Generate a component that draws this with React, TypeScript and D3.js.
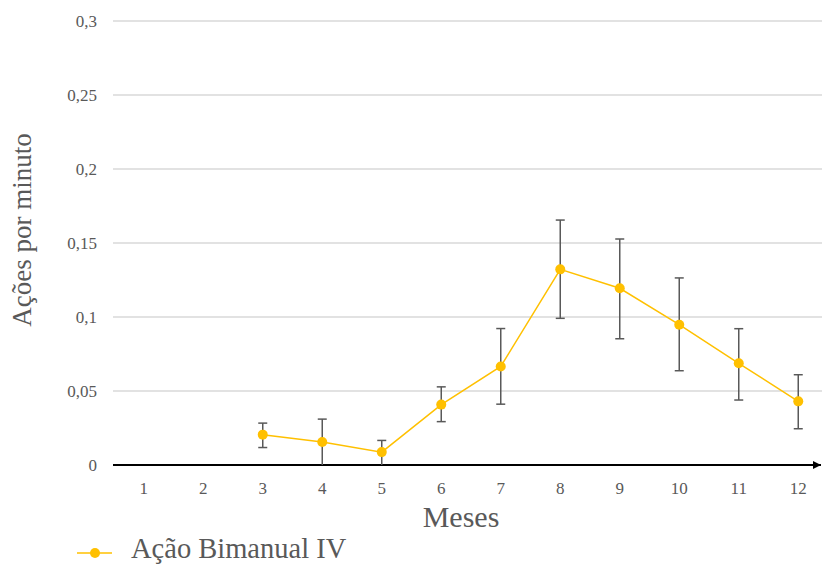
import React from "react";
import * as d3 from "d3";

// monthly values
const months = ["1", "2", "3", "4", "5", "6", "7", "8", "9", "10", "11", "12"];
const meanValues = [null, null, 0.0205, 0.0155, 0.0087, 0.0408, 0.0666, 0.1322, 0.1194, 0.0948, 0.0687, 0.043];
const upperValues = [null, null, 0.0283, 0.031, 0.0166, 0.0528, 0.0922, 0.1655, 0.1527, 0.1264, 0.0921, 0.061];
const lowerValues = [null, null, 0.0118, 0, 0, 0.0293, 0.0411, 0.0991, 0.0853, 0.0637, 0.0439, 0.0245];
const yTicks = [0, 0.05, 0.1, 0.15, 0.2, 0.25, 0.3];
const yTickLabels = ["0", "0,05", "0,1", "0,15", "0,2", "0,25", "0,3"];
const seriesName = "Ação Bimanual IV";
const xTitle = "Meses";
const yTitle = "Ações por minuto";

const W = 822;
const H = 564;
const left = 113;
const right = 822;
const top = 21;
const bottom = 465;
const serif = "Liberation Serif, Times New Roman, serif";
const gold = "#FFC000";
const grey = "#595959";

export default function App() {
  const x = d3.scaleBand<string>().domain(months).range([114, 828]);
  const y = d3.scaleLinear().domain([0, 0.3]).range([bottom, top]);

  const pts = months
    .map((m, i) => ({ m, v: meanValues[i], hi: upperValues[i], lo: lowerValues[i] }))
    .filter((d) => d.v !== null) as { m: string; v: number; hi: number; lo: number }[];

  const cx = (m: string) => (x(m) as number) + x.bandwidth() / 2;

  const line = d3
    .line<{ m: string; v: number }>()
    .x((d) => cx(d.m))
    .y((d) => y(d.v));

  return (
    <svg
      width={W}
      height={H}
      style={{ position: "fixed", top: 0, left: 0, background: "#fff", fontFamily: serif }}
    >
      <defs>
        <marker id="arrow" viewBox="0 0 10 10" refX="10" refY="5" markerWidth="4" markerHeight="4" orient="auto">
          <path d="M0,0 L10,5 L0,10 z" fill="#000" />
        </marker>
      </defs>

      {/* gridlines + y labels */}
      {yTicks.map((t, i) => (
        <g key={t}>
          {t > 0 && <line x1={left} x2={right} y1={y(t)} y2={y(t)} stroke="#d9d9d9" strokeWidth={1.3} />}
          <text x={97} y={y(t) + 6} textAnchor="end" fontSize={17} fill={grey} style={{ fontFamily: serif }}>
            {yTickLabels[i]}
          </text>
        </g>
      ))}

      {/* x axis */}
      <line x1={left} x2={821} y1={bottom} y2={bottom} stroke="#000" strokeWidth={2} markerEnd="url(#arrow)" />
      {months.map((m) => (
        <text key={m} x={cx(m)} y={494} textAnchor="middle" fontSize={17} fill={grey} style={{ fontFamily: serif }}>
          {m}
        </text>
      ))}

      {/* error bars */}
      {pts.map((d) => (
        <g key={"e" + d.m} stroke={grey} strokeWidth={1.5}>
          <line x1={cx(d.m)} x2={cx(d.m)} y1={y(d.hi)} y2={y(d.lo)} />
          <line x1={cx(d.m) - 4.5} x2={cx(d.m) + 4.5} y1={y(d.hi)} y2={y(d.hi)} />
          {d.lo > 0 && <line x1={cx(d.m) - 4.5} x2={cx(d.m) + 4.5} y1={y(d.lo)} y2={y(d.lo)} />}
        </g>
      ))}

      {/* series */}
      <path d={line(pts) || ""} fill="none" stroke={gold} strokeWidth={1.5} />
      {pts.map((d) => (
        <circle key={"p" + d.m} cx={cx(d.m)} cy={y(d.v)} r={5} fill={gold} />
      ))}

      {/* titles */}
      <text x={461} y={527} textAnchor="middle" fontSize={30} fill={grey}>
        {xTitle}
      </text>
      <text transform="translate(31,230) rotate(-90)" textAnchor="middle" fontSize={27} fill={grey}>
        {yTitle}
      </text>

      {/* legend */}
      <line x1={77} x2={112} y1={553} y2={553} stroke={gold} strokeWidth={1.5} />
      <circle cx={95} cy={553} r={5} fill={gold} />
      <text x={131} y={558} fontSize={28.5} fill={grey}>
        {seriesName}
      </text>
    </svg>
  );
}
